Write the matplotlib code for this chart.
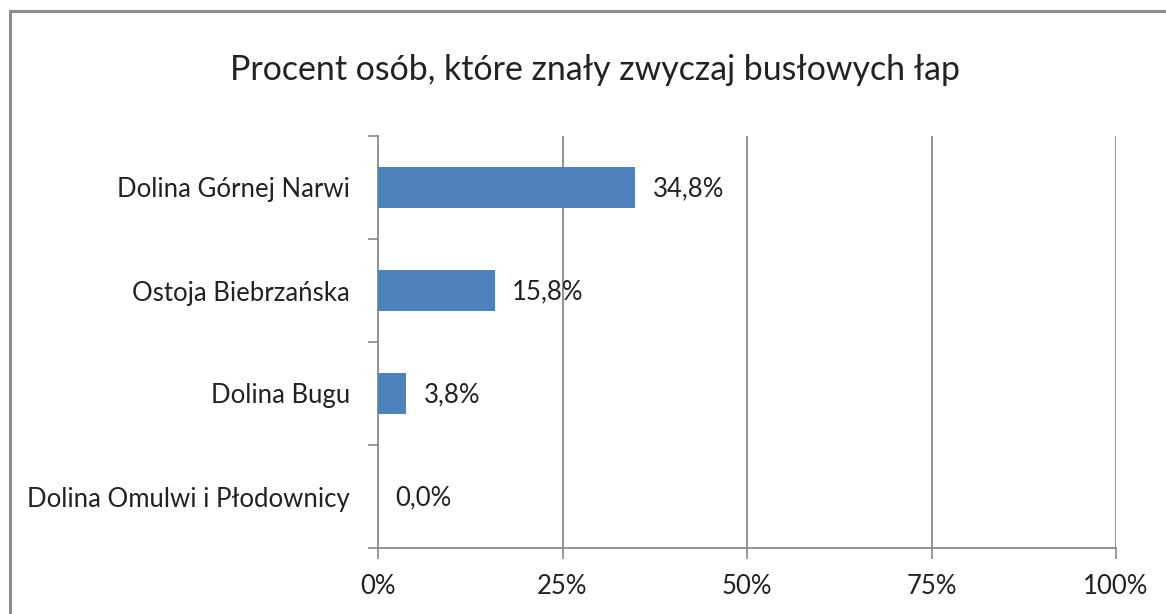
import matplotlib
matplotlib.use("Agg")
import matplotlib.pyplot as plt
from matplotlib.patches import Rectangle

categories = ["Dolina Górnej Narwi", "Ostoja Biebrzańska", "Dolina Bugu", "Dolina Omulwi i Płodownicy"]
values = [34.8, 15.8, 3.8, 0.0]
value_labels = ["34,8%", "15,8%", "3,8%", "0,0%"]
xticks = [0, 25, 50, 75, 100]
xtick_labels = ["0%", "25%", "50%", "75%", "100%"]
title = "Procent osób, które znały zwyczaj busłowych łap"

W, H = 1166, 614
fig = plt.figure(figsize=(W / 100, H / 100), dpi=100)
plt.rcParams['font.family'] = ['Lato', 'DejaVu Sans']

# figure border
fig.patches.append(Rectangle((9.5 / W, -0.05), 1.2, (H - 11) / H + 0.05, transform=fig.transFigure,
                             fill=False, edgecolor="#8c8c8c", linewidth=2.2, zorder=0))

ax = fig.add_axes([378 / W, 66 / H, 738 / W, 412 / H])
gray = "#8a8a8a"
txt = "#222222"
ypos = list(range(len(categories)))
ax.barh(ypos, values, height=0.4, color="#4F81BD", linewidth=0, zorder=3)
ax.set_ylim(len(categories) - 0.5, -0.5)
ax.set_xlim(0, 100)

for y, v, lab in zip(ypos, values, value_labels):
    ax.text(v + 2.4, y + 0.01, lab, va="center", ha="left", fontsize=18.5, color=txt, zorder=4)

ax.set_xticks(xticks)
ax.set_xticklabels(xtick_labels, fontsize=18.5, color=txt)
ax.set_yticks(ypos)
ax.set_yticklabels(categories, fontsize=18.5, color=txt)
ax.tick_params(axis="y", length=0, pad=20)
ax.set_yticks([i - 0.5 for i in range(len(categories) + 1)], minor=True)
ax.tick_params(axis="y", which="minor", length=7, width=1.2, color=gray)
ax.tick_params(axis="x", length=8, width=1.2, color=gray, pad=11)

for x in xticks[1:]:
    ax.axvline(x, color=gray, linewidth=1.3, zorder=1)

for s in ["top", "right"]:
    ax.spines[s].set_visible(False)
for s in ["left", "bottom"]:
    ax.spines[s].set_color(gray)
    ax.spines[s].set_linewidth(1.3)

fig.text(595 / W, 1 - 70 / H, title, ha="center", va="center", fontsize=24.4, color=txt)

fig.savefig("out.png", dpi=100)
